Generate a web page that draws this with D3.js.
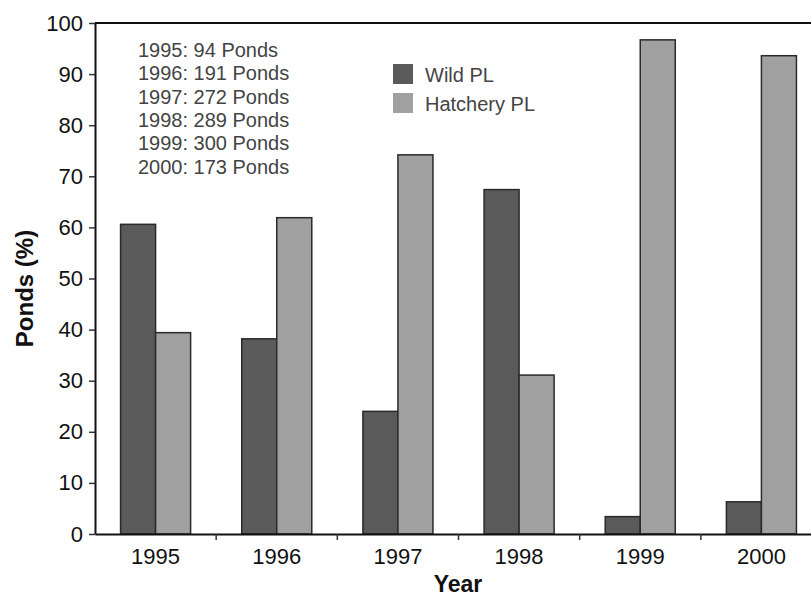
<!DOCTYPE html>
<html>
<head>
<meta charset="utf-8">
<script src="https://cdn.jsdelivr.net/npm/d3@7"></script>
<style>
  body { margin: 0; background: #fff; }
  svg { display: block; font-family: "Liberation Sans", Arial, sans-serif; }
</style>
</head>
<body>
<div id="chart"></div>
<script>
// values
const years = ["1995", "1996", "1997", "1998", "1999", "2000"];
const wildPL = [60.6, 38.2, 24.0, 67.4, 3.4, 6.3];
const hatcheryPL = [39.4, 61.9, 74.2, 31.1, 96.7, 93.6];
const pondCounts = [94, 191, 272, 289, 300, 173];
const seriesNames = ["Wild PL", "Hatchery PL"];
const yTicks = [0, 10, 20, 30, 40, 50, 60, 70, 80, 90, 100];

const width = 811, height = 599;
// plot area, it runs past the right edge of the picture
const plotLeft = 95, plotTop = 23, plotBottom = 534, plotRight = 822;

const color = d3.scaleOrdinal()
    .domain(seriesNames)
    .range(["#5a5a5a", "#a0a0a0"]);

const svg = d3.select("#chart")
    .append("svg")
    .attr("width", width)
    .attr("height", height);

const x = d3.scaleBand()
    .domain(years)
    .range([plotLeft, plotRight])
    .padding(0);

const xSub = d3.scaleBand()
    .domain(seriesNames)
    .range([0, x.bandwidth()])
    .paddingInner(0)
    .paddingOuter(0.73);

const y = d3.scaleLinear()
    .domain([0, 100])
    .range([plotBottom, plotTop]);

const rows = years.map((yr, i) => ({
    year: yr,
    values: [
        { name: "Wild PL", value: wildPL[i] },
        { name: "Hatchery PL", value: hatcheryPL[i] }
    ]
}));

// bars
svg.append("g")
    .selectAll("g")
    .data(rows)
    .enter()
    .append("g")
    .attr("transform", d => `translate(${x(d.year)},0)`)
    .selectAll("rect")
    .data(d => d.values)
    .enter()
    .append("rect")
    .attr("x", d => xSub(d.name))
    .attr("y", d => y(d.value))
    .attr("width", xSub.bandwidth())
    .attr("height", d => plotBottom - y(d.value))
    .attr("fill", d => color(d.name))
    .attr("stroke", "#2a2a2a")
    .attr("stroke-width", 1.5);

// top frame line
svg.append("line")
    .attr("x1", plotLeft).attr("x2", width)
    .attr("y1", plotTop).attr("y2", plotTop)
    .attr("stroke", "#111")
    .attr("stroke-width", 2);

// y axis
const yAxis = svg.append("g")
    .attr("transform", `translate(${plotLeft},0)`)
    .call(d3.axisLeft(y).tickValues(yTicks).tickSize(6).tickSizeOuter(0).tickPadding(6));
yAxis.select(".domain").attr("stroke", "#111").attr("stroke-width", 2);
yAxis.selectAll(".tick line").attr("stroke", "#333").attr("stroke-width", 1.5);
yAxis.selectAll(".tick text")
    .attr("font-size", "22px")
    .attr("font-family", "Liberation Sans, Arial, sans-serif")
    .attr("fill", "#111");

// x axis
const xAxis = svg.append("g")
    .attr("transform", `translate(0,${plotBottom})`)
    .call(d3.axisBottom(x).tickSize(0).tickSizeOuter(0).tickPadding(14));
xAxis.select(".domain").attr("stroke", "#111").attr("stroke-width", 2);
xAxis.selectAll(".tick text")
    .attr("font-size", "22px")
    .attr("font-family", "Liberation Sans, Arial, sans-serif")
    .attr("fill", "#111")
    .attr("dy", "0.71em");

// category boundary ticks
svg.append("g")
    .selectAll("line")
    .data(years.slice(1))
    .enter()
    .append("line")
    .attr("x1", d => x(d)).attr("x2", d => x(d))
    .attr("y1", plotBottom).attr("y2", plotBottom + 6)
    .attr("stroke", "#333")
    .attr("stroke-width", 1.5);

// axis titles
svg.append("text")
    .attr("x", 458)
    .attr("y", 592)
    .attr("text-anchor", "middle")
    .attr("font-size", "23px")
    .attr("font-weight", "bold")
    .attr("fill", "#111")
    .text("Year");

svg.append("text")
    .attr("transform", `translate(33,${(plotTop + plotBottom) / 2 + 10}) rotate(-90)`)
    .attr("text-anchor", "middle")
    .attr("font-size", "24px")
    .attr("font-weight", "bold")
    .attr("fill", "#111")
    .text("Ponds (%)");

// pond counts note
svg.append("g")
    .selectAll("text")
    .data(years)
    .enter()
    .append("text")
    .attr("x", 138)
    .attr("y", (d, i) => 57 + i * 23.3)
    .attr("font-size", "20px")
    .attr("fill", "#444")
    .text((d, i) => `${d}: ${pondCounts[i]} Ponds`);

// legend
const legend = svg.append("g")
    .selectAll("g")
    .data(seriesNames)
    .enter()
    .append("g")
    .attr("transform", (d, i) => `translate(393,${64 + i * 29})`);

legend.append("rect")
    .attr("width", 20)
    .attr("height", 20)
    .attr("fill", d => color(d));

legend.append("text")
    .attr("x", 32)
    .attr("y", 18)
    .attr("font-size", "20px")
    .attr("fill", "#444")
    .text(d => d);
</script>
</body>
</html>
